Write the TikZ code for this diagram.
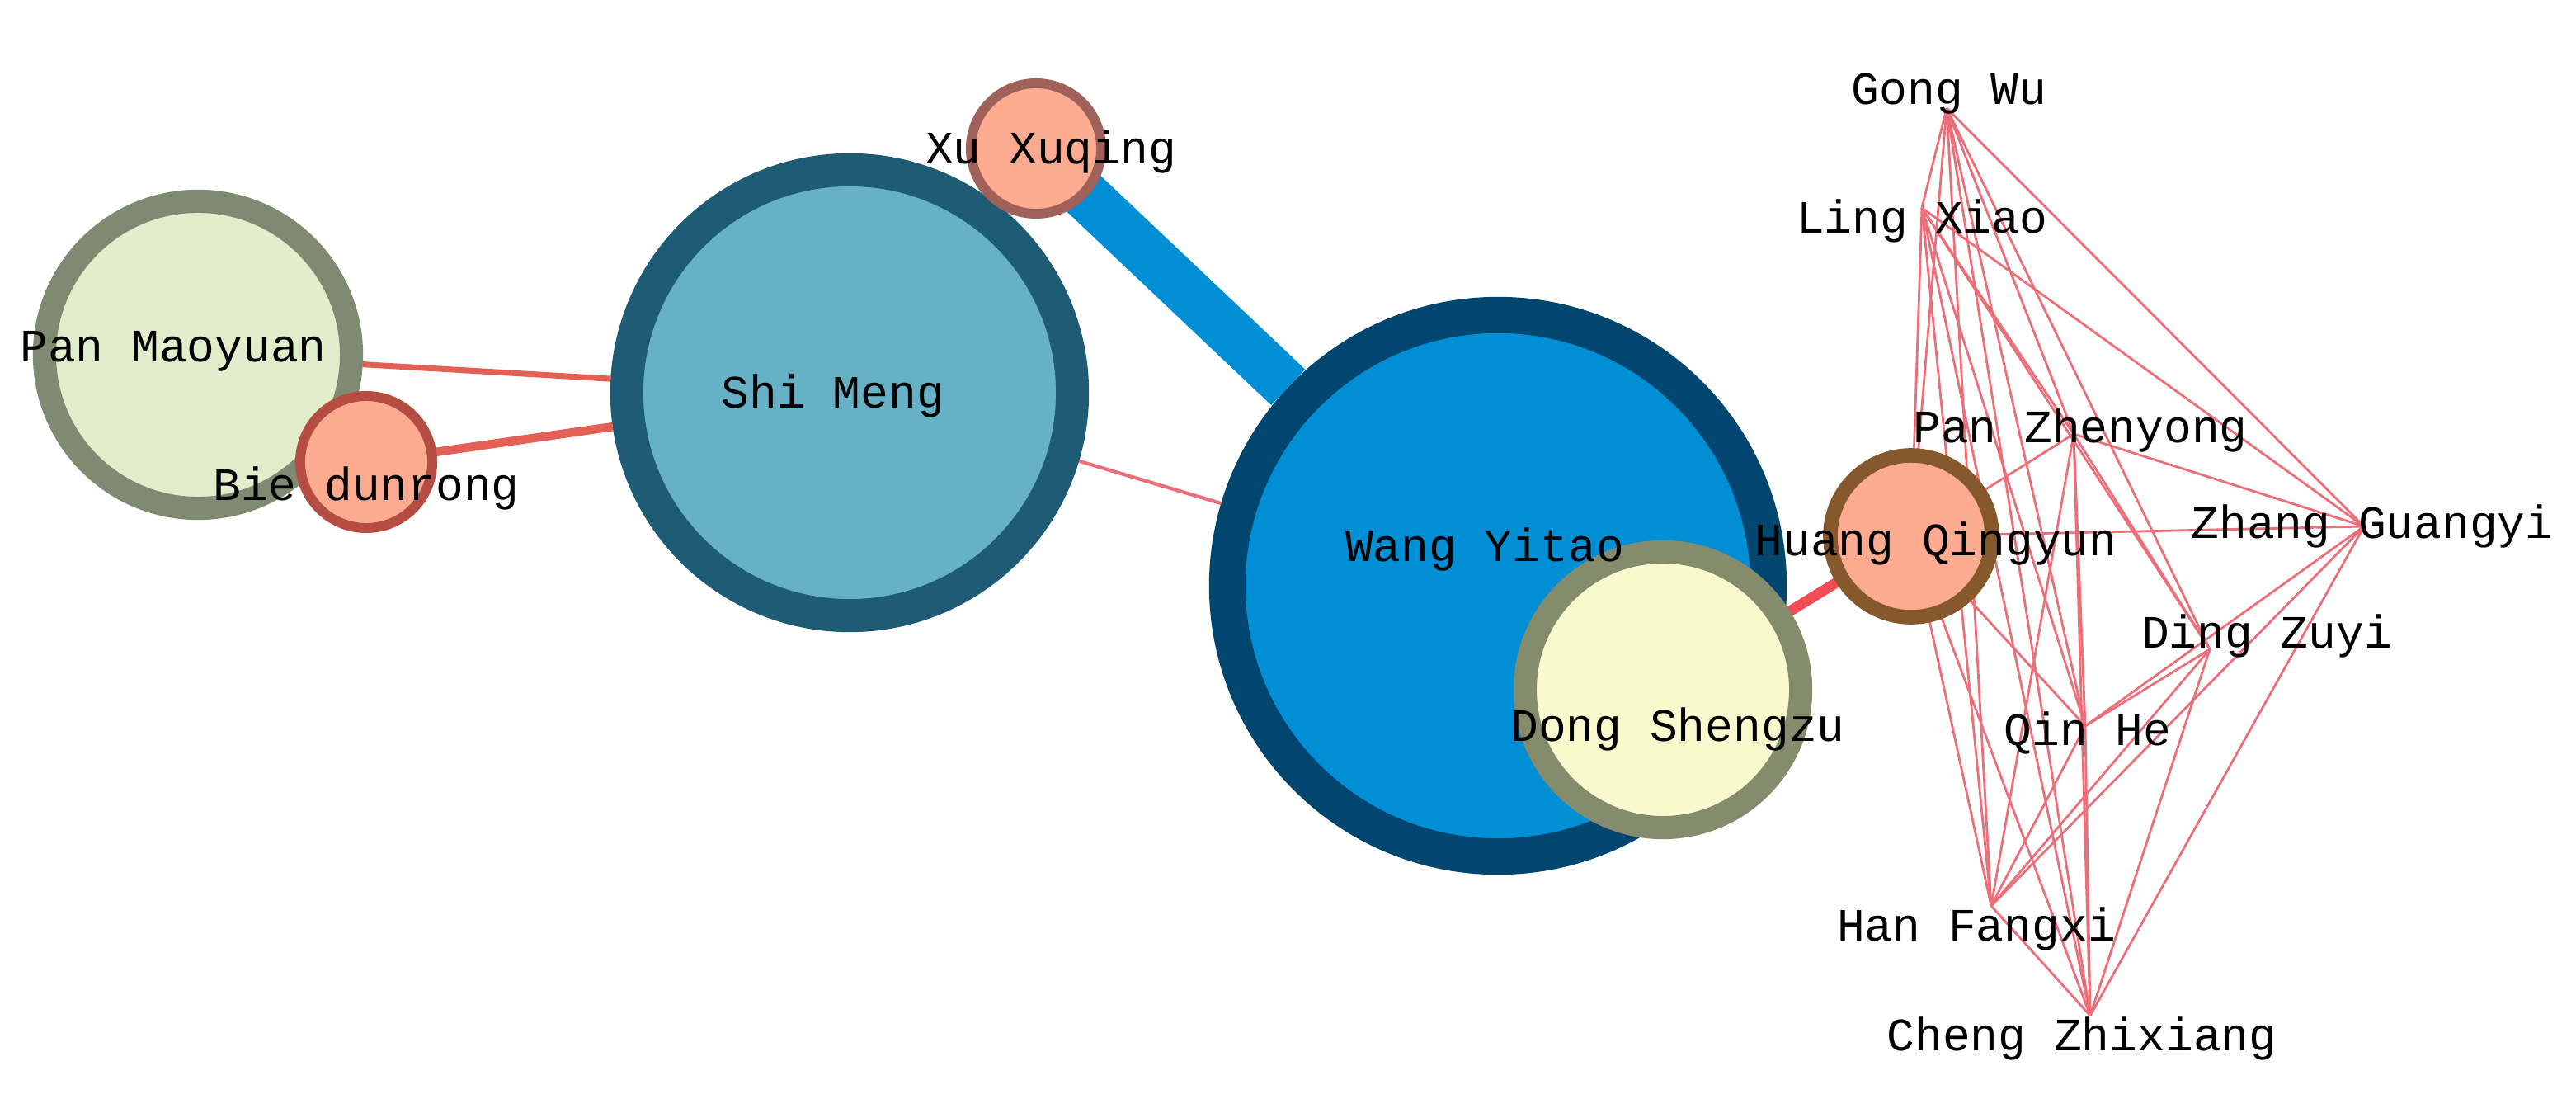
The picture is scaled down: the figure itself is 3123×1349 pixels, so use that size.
\documentclass[tikz,border=0pt]{standalone}
\usepackage{fontspec}
\setmainfont{Liberation Mono}
\definecolor{edgered}{RGB}{236,110,120}
\definecolor{linkred}{RGB}{228,96,84}
\definecolor{linkblue}{RGB}{0,143,213}
\definecolor{salmon}{RGB}{252,170,144}
\definecolor{paleGreen}{RGB}{226,237,203}
\definecolor{greyGreen}{RGB}{127,138,114}
\definecolor{teal}{RGB}{103,177,199}
\definecolor{darkTeal}{RGB}{29,92,116}
\definecolor{navy}{RGB}{0,70,111}
\definecolor{paleYellow}{RGB}{248,250,205}
\definecolor{olive}{RGB}{133,140,110}
\tikzset{
  person/.style={circle, inner sep=0pt},
  label text/.style={font=\fontsize{16}{18}\selectfont, inner sep=0pt},
  thin link/.style={draw=edgered, line width=0.8pt}
}
\begin{document}
\begin{tikzpicture}[x=0.01cm,y=-0.01cm]
\useasboundingbox (0,0) rectangle (3123,1349);
% cluster on the right
\coordinate (gw) at (2360,131);
\coordinate (lx) at (2330,252);
\coordinate (pz) at (2514,526);
\coordinate (hq) at (2317,650);
\coordinate (zg) at (2866,638);
\coordinate (dz) at (2679,787);
\coordinate (qh) at (2528,880);
\coordinate (hf) at (2414,1098);
\coordinate (cz) at (2534,1231);
\foreach \a/\b in {gw/lx,gw/pz,gw/hq,gw/zg,gw/dz,gw/qh,gw/hf,gw/cz,
                   lx/pz,lx/hq,lx/zg,lx/dz,lx/qh,lx/hf,lx/cz,
                   pz/hq,pz/zg,pz/dz,pz/qh,pz/hf,pz/cz,
                   hq/zg,hq/qh,hq/hf,hq/cz,
                   zg/hf,zg/cz,zg/qh,
                   dz/hf,dz/cz,dz/qh,
                   qh/hf,qh/cz,hf/cz}
  \draw[thin link] (\a) -- (\b);

% big nodes
\node[person, minimum size=3.72cm, fill=paleGreen, draw=greyGreen, line width=8pt] (pm) at (240,430) {};
\node[person, minimum size=5.4cm, fill=teal, draw=darkTeal, line width=11.4pt] (sm) at (1030,476) {};
\node[person, minimum size=6.56cm, fill=linkblue, draw=navy, line width=12.5pt] (wy) at (1816,710) {};

\draw[linkred, line width=2pt] (pm) -- (sm);
\draw[linkred, line width=3pt] (444,560) -- (sm);
\draw[edgered, line width=1.2pt] (sm) -- (wy);
\draw[linkblue, line width=17pt] (1256,180) -- (wy);
\draw[edgered!70!red, line width=3.6pt] (2016,836) -- (hq);

\node[person, minimum size=1.6cm, fill=salmon, draw=linkred!80!black, line width=3.4pt] (bd) at (444,560) {};
\node[person, minimum size=1.58cm, fill=salmon, draw=linkred!60!black!80, line width=3.4pt] (xx) at (1256,180) {};
\node[person, minimum size=3.34cm, fill=paleYellow, draw=olive, line width=8pt] (ds) at (2016,836) {};
\node[person, minimum size=1.96cm, fill=salmon, draw=brown!70!black, line width=5pt] (hqc) at (hq) {};

% labels
\node[label text] at (210,426) {Pan Maoyuan};
\node[label text] at (444,592) {Bie dunrong};
\node[label text] at (1010,480) {Shi Meng};
\node[label text] at (1274,184) {Xu Xuqing};
\node[label text] at (1800,666) {Wang Yitao};
\node[label text] at (2034,884) {Dong Shengzu};
\node[label text] at (2363,114) {Gong Wu};
\node[label text] at (2330,268) {Ling Xiao};
\node[label text] at (2522,522) {Pan Zhenyong};
\node[label text] at (2347,659) {Huang Qingyun};
\node[label text] at (2876,638) {Zhang Guangyi};
\node[label text] at (2748,771) {Ding Zuyi};
\node[label text] at (2531,888) {Qin He};
\node[label text] at (2396,1126) {Han Fangxi};
\node[label text] at (2524,1259) {Cheng Zhixiang};
\end{tikzpicture}
\end{document}
